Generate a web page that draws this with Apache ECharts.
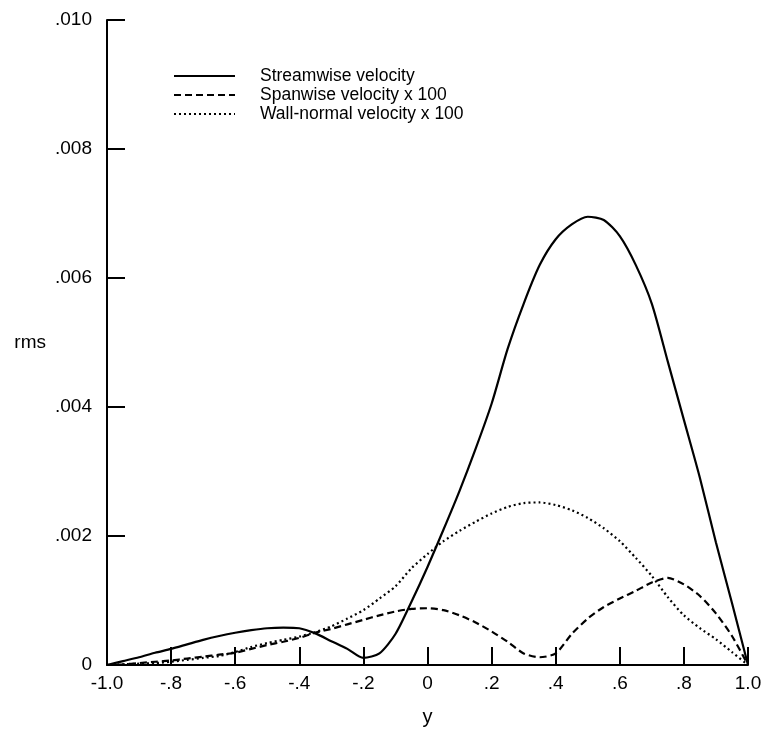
<!DOCTYPE html>
<html>
<head>
<meta charset="utf-8">
<script src="https://cdn.jsdelivr.net/npm/echarts@6/dist/echarts.min.js"></script>
<style>
  html, body { margin: 0; padding: 0; background: #fff; }
  #chart { width: 766px; height: 732px; }
</style>
</head>
<body>
<div id="chart"></div>
<script>
// y position across the channel
const yPos = [-1.0, -0.95, -0.9, -0.85, -0.8, -0.75, -0.7, -0.65, -0.6, -0.55,
  -0.5, -0.45, -0.4, -0.35, -0.3, -0.25, -0.2, -0.15, -0.1, -0.05,
  0.0, 0.05, 0.1, 0.15, 0.2, 0.25, 0.3, 0.35, 0.4, 0.45,
  0.5, 0.55, 0.6, 0.65, 0.7, 0.75, 0.8, 0.85, 0.9, 0.95, 1.0]

const streamwise = [0, 0.00006, 0.00012, 0.00019, 0.00025, 0.00032, 0.00039, 0.00045, 0.0005, 0.00054,
  0.00057, 0.00058, 0.00057, 0.00049, 0.00037, 0.00025, 0.00011, 0.00018, 0.00048, 0.00098,
  0.00152, 0.0021, 0.0027, 0.00335, 0.00405, 0.0049, 0.0056, 0.0062, 0.0066, 0.00683,
  0.00695, 0.0069, 0.00665, 0.0062, 0.0056, 0.0047, 0.0038, 0.0029, 0.0019, 0.00096, 0]

const spanwise = [0, 0.00001, 0.00003, 0.00005, 0.00007, 0.0001, 0.00013, 0.00016, 0.00019, 0.00025,
  0.00031, 0.00036, 0.00042, 0.0005, 0.00056, 0.00063, 0.0007, 0.00077, 0.00083, 0.00087,
  0.00088, 0.00085, 0.00077, 0.00066, 0.00052, 0.00036, 0.00018, 0.00012, 0.00018, 0.00048,
  0.00072, 0.0009, 0.00103, 0.00115, 0.00128, 0.00135, 0.00125, 0.00107, 0.0008, 0.00045, 0]

const wallNormal = [0, 0.00001, 0.00002, 0.00003, 0.00005, 0.00008, 0.00011, 0.00014, 0.0002, 0.00028,
  0.00034, 0.00039, 0.00044, 0.00051, 0.0006, 0.00072, 0.00085, 0.00103, 0.00122, 0.0015,
  0.00172, 0.00192, 0.00208, 0.00222, 0.00235, 0.00245, 0.00251, 0.00252, 0.00248, 0.0024,
  0.00228, 0.00212, 0.00192, 0.00166, 0.00138, 0.00105, 0.00077, 0.00057, 0.0004, 0.0002, 0]

const seriesNames = ['Streamwise velocity', 'Spanwise velocity x 100', 'Wall-normal velocity x 100']

const font = 'Liberation Sans'

const pairs = (vals) => yPos.map((x, i) => [x, vals[i]])

// labels like .002 / -.8
const dropZero = (v, digits) => {
  if (Math.abs(v) < 1e-12) return '0'
  let s = v.toFixed(digits)
  if (Math.abs(v) >= 1) return s
  return s.replace('0.', '.')
}

const makeSeries = (name, vals, type) => ({
  name: name,
  type: 'line',
  data: pairs(vals),
  symbol: 'none',
  smooth: 0.25,
  lineStyle: { color: '#000', width: 2.2, type: type },
  emphasis: { disabled: true }
})

let chart = echarts.init(document.getElementById('chart'))
let option = {
  animation: false,
  backgroundColor: '#fff',
  grid: { left: 107, right: 18, top: 20, bottom: 67 },
  legend: {
    orient: 'vertical',
    left: 168,
    top: 62,
    itemWidth: 61,
    itemHeight: 12,
    itemGap: 1,
    data: seriesNames,
    itemStyle: { opacity: 0 },
    textStyle: { fontFamily: font, fontSize: 17.5, lineHeight: 18, color: '#000', padding: [0, 0, 0, 20] },
    inactiveColor: '#000'
  },
  xAxis: {
    type: 'value',
    min: -1,
    max: 1,
    interval: 0.2,
    name: 'y',
    nameLocation: 'middle',
    nameGap: 42,
    nameTextStyle: { fontFamily: font, fontSize: 20, color: '#000' },
    axisLine: { onZero: false, lineStyle: { color: '#000', width: 2 } },
    axisTick: { inside: true, length: 18, lineStyle: { color: '#000', width: 2 } },
    axisLabel: {
      fontFamily: font, fontSize: 19, color: '#000', margin: 9,
      formatter: (v) => dropZero(v, 1)
    },
    splitLine: { show: false }
  },
  yAxis: {
    type: 'value',
    min: 0,
    max: 0.01,
    interval: 0.002,
    name: 'rms',
    nameLocation: 'middle',
    nameRotate: 0,
    nameGap: 61,
    nameTextStyle: { fontFamily: font, fontSize: 19, color: '#000' },
    axisLine: { onZero: false, lineStyle: { color: '#000', width: 2 } },
    axisTick: { inside: true, length: 18, lineStyle: { color: '#000', width: 2 } },
    axisLabel: {
      fontFamily: font, fontSize: 19, color: '#000', margin: 15,
      formatter: (v) => dropZero(v, 3)
    },
    splitLine: { show: false }
  },
  series: [
    makeSeries(seriesNames[0], streamwise, 'solid'),
    makeSeries(seriesNames[1], spanwise, [7, 4]),
    makeSeries(seriesNames[2], wallNormal, [2, 3])
  ]
}
chart.setOption(option)
</script>
</body>
</html>
